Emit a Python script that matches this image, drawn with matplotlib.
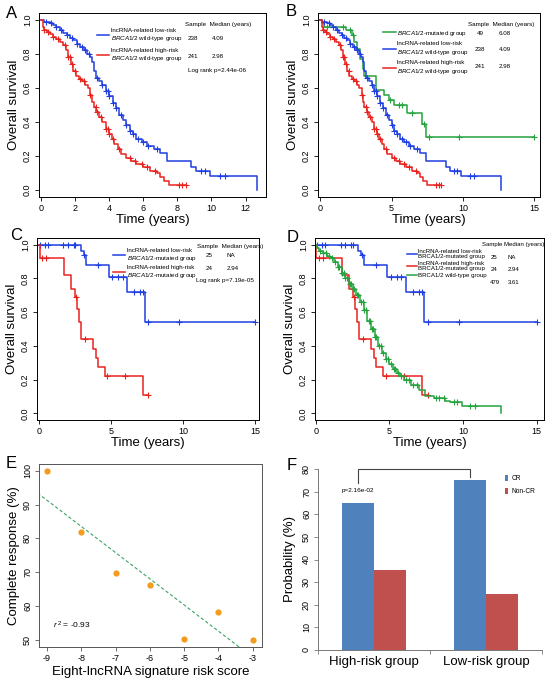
import numpy as np
import matplotlib
matplotlib.use('Agg')
import matplotlib.pyplot as plt

plt.rcParams['font.family'] = ['Liberation Sans', 'DejaVu Sans']
plt.rcParams['mathtext.fontset'] = 'custom'
plt.rcParams['mathtext.rm'] = 'Liberation Sans'
plt.rcParams['mathtext.it'] = 'Liberation Sans:italic'
plt.rcParams['axes.unicode_minus'] = False

BLUE = '#1f3fe0'
RED = '#e8231e'
GREEN = '#25a33f'

# ---- Kaplan-Meier curves (time in years, survival) ----
# lncRNA-related low-risk, BRCA1/2 wild-type (n=238)
low_wt_t = [0, 0.15, 0.3, 0.5, 0.7, 0.9, 1.1, 1.3, 1.5, 1.7, 1.9, 2.1, 2.3, 2.5, 2.7,
            2.85, 3.0, 3.1, 3.2, 3.4, 3.6, 3.8, 4.0, 4.2, 4.4, 4.6, 4.8, 5.0, 5.2, 5.4,
            5.6, 5.9, 6.2, 6.6, 7.0, 7.4, 8.8, 9.1, 9.9, 12.65]
low_wt_s = [1.0, 0.99, 0.985, 0.98, 0.97, 0.955, 0.94, 0.925, 0.91, 0.895, 0.88, 0.86,
            0.84, 0.82, 0.80, 0.78, 0.75, 0.70, 0.66, 0.64, 0.62, 0.58, 0.55, 0.51, 0.48,
            0.44, 0.41, 0.38, 0.35, 0.33, 0.30, 0.28, 0.26, 0.24, 0.22, 0.17, 0.135,
            0.11, 0.085, 0.0]
low_wt_c = [0.3, 0.6, 0.9, 1.2, 1.5, 1.8, 2.1, 2.4, 2.6, 2.8, 3.3, 3.6, 3.8, 3.9, 4.0,
            4.2, 4.4, 4.7, 5.0, 5.2, 5.4, 5.7, 6.0, 6.3, 6.8, 9.4, 9.6, 10.5, 10.8]

# lncRNA-related high-risk, BRCA1/2 wild-type (n=241)
high_wt_t = [0, 0.1, 0.2, 0.35, 0.5, 0.7, 0.9, 1.1, 1.3, 1.45, 1.6, 1.75, 1.9, 2.05,
             2.2, 2.4, 2.6, 2.75, 2.9, 3.0, 3.1, 3.25, 3.4, 3.6, 3.8, 4.0, 4.15, 4.3,
             4.5, 4.7, 5.0, 5.3, 5.6, 6.0, 6.4, 6.8, 7.0, 7.2, 7.5]
high_wt_s = [1.0, 0.96, 0.94, 0.93, 0.915, 0.9, 0.89, 0.87, 0.85, 0.82, 0.78, 0.74,
             0.70, 0.67, 0.65, 0.64, 0.62, 0.60, 0.56, 0.52, 0.49, 0.46, 0.43, 0.40,
             0.36, 0.33, 0.30, 0.27, 0.24, 0.21, 0.19, 0.17, 0.155, 0.135, 0.115, 0.10,
             0.08, 0.055, 0.03]
high_wt_c = [0.2, 0.4, 0.7, 1.0, 1.4, 1.6, 1.7, 1.8, 2.0, 2.3, 2.5, 2.9, 3.2, 3.3, 3.5,
             3.8, 3.9, 4.0, 4.2, 4.6, 5.2, 5.5, 5.9, 6.2, 6.7, 8.1, 8.3, 8.5]

# BRCA1/2-mutated group (n=49)
mut_t = [0, 0.1, 0.3, 1.8, 2.2, 2.4, 2.6, 2.8, 3.0, 3.1, 3.9, 4.5, 4.8, 5.2, 6.1, 7.1, 7.4]
mut_s = [1.0, 0.98, 0.96, 0.94, 0.91, 0.87, 0.83, 0.77, 0.71, 0.67, 0.59, 0.56, 0.53,
         0.50, 0.455, 0.39, 0.31]
mut_c = [0.5, 1.6, 2.1, 2.3, 4.9, 5.5, 5.7, 6.4, 7.3, 7.6, 9.7, 15.0]

# lncRNA-related low-risk, BRCA1/2-mutated (n=25)
low_mut_t = [0, 2.9, 3.1, 3.25, 4.85, 6.1, 7.35]
low_mut_s = [1.0, 0.96, 0.94, 0.88, 0.81, 0.72, 0.54]
low_mut_c = [0.1, 0.4, 0.6, 1.7, 2.0, 2.4, 2.5, 3.15, 4.1, 5.1, 5.5, 5.8, 6.6, 7.0,
             7.2, 7.6, 9.7, 15.0]

# lncRNA-related high-risk, BRCA1/2-mutated (n=24)
high_mut_t = [0, 0.05, 1.75, 2.25, 2.5, 2.65, 2.8, 2.95, 3.75, 3.95, 4.1, 4.55, 7.2]
high_mut_s = [1.0, 0.92, 0.82, 0.74, 0.69, 0.62, 0.54, 0.44, 0.38, 0.33, 0.275, 0.22, 0.11]
high_mut_c = [0.2, 0.5, 2.6, 3.2, 4.75, 6.0, 7.6]

# BRCA1/2 wild-type group (n=479)
wt_t = [0, 0.1, 0.25, 0.5, 0.75, 1.0, 1.25, 1.5, 1.75, 2.0, 2.25, 2.5, 2.75, 3.0, 3.25,
        3.5, 3.75, 4.0, 4.25, 4.5, 4.75, 5.0, 5.25, 5.5, 5.75, 6.0, 6.5, 7.0, 7.4, 8.0,
        8.8, 9.1, 9.9, 12.6]
wt_s = [1.0, 0.98, 0.965, 0.95, 0.935, 0.92, 0.895, 0.87, 0.835, 0.80, 0.77, 0.74,
        0.70, 0.66, 0.61, 0.55, 0.50, 0.45, 0.40, 0.36, 0.32, 0.29, 0.265, 0.24, 0.22,
        0.20, 0.17, 0.14, 0.10, 0.09, 0.075, 0.065, 0.045, 0.0]
wt_c = [0.3, 0.5, 0.7, 0.9, 1.1, 1.3, 1.5, 1.6, 1.8, 1.9, 2.0, 2.1, 2.3, 2.4, 2.5, 2.6,
        2.8, 2.9, 3.1, 3.2, 3.3, 3.4, 3.6, 3.7, 3.8, 3.9, 4.0, 4.1, 4.3, 4.4, 4.6, 4.8,
        4.9, 5.1, 5.3, 5.4, 5.6, 5.8, 6.1, 6.3, 6.6, 6.9, 8.2, 8.4, 8.7, 9.4, 9.6, 10.5,
        10.8]

# ---- panel E ----
risk_score = [-9, -8, -7, -6, -5, -4, -3]
complete_resp = [100, 82, 69.7, 66.2, 50.3, 58.3, 50]

# ---- panel F ----
groups = ['High-risk group', 'Low-risk group']
cr_pct = [64.8, 75.2]
noncr_pct = [35.2, 24.8]

W, H = 550, 680
fig = plt.figure(figsize=(5.5, 6.8), dpi=100)


def px_axes(l, t, r, b):
    return fig.add_axes([l / W, 1 - b / H, (r - l) / W, (b - t) / H])


def km(ax, times, surv, cens, color):
    times = np.asarray(times, float)
    surv = np.asarray(surv, float)
    tend = max(times[-1], max(cens))
    line, = ax.step(np.append(times, tend), np.append(surv, surv[-1]), where='post',
                    color=color, lw=1.1)
    idx = np.searchsorted(times, cens, side='right') - 1
    ax.plot(cens, surv[idx], ls='none', marker='+', ms=4, mew=0.8, color=color)
    return line


def surv_style(ax, xlim, xticks):
    ax.set_xlim(*xlim)
    ax.set_ylim(-0.04, 1.04)
    ax.set_xticks(xticks)
    yt = [0, 0.2, 0.4, 0.6, 0.8, 1.0]
    ax.set_yticks(yt)
    ax.set_yticklabels(['%.1f' % v for v in yt], rotation=90, va='center')
    ax.tick_params(labelsize=6.5, length=3, width=0.6, pad=2)
    ax.set_xlabel('Time (years)', fontsize=9.5, labelpad=1)
    ax.set_ylabel('Overall survival', fontsize=9.5, labelpad=2)
    for s in ax.spines.values():
        s.set_linewidth(0.7)


def txt(ax, x, y, s, ha='center', fs=4.5):
    ax.text(x, y, s, transform=ax.transAxes, ha=ha, va='center', fontsize=fs)


lbl_low_wt = 'lncRNA-related low-risk\n$\\mathit{BRCA1/2}$ wild-type group'
lbl_high_wt = 'lncRNA-related high-risk\n$\\mathit{BRCA1/2}$ wild-type group'
lbl_mut = '$\\mathit{BRCA1/2}$-mutated group'
lbl_low_mut = 'lncRNA-related low-risk\n$\\mathit{BRCA1/2}$-mutated group'
lbl_high_mut = 'lncRNA-related high-risk\n$\\mathit{BRCA1/2}$-mutated group'
leg_kw = dict(loc='upper left', frameon=False, handlelength=2.0, handletextpad=0.3,
              borderaxespad=0, borderpad=0)

# ---- A ----
axA = px_axes(39, 13, 266, 197)
h1 = km(axA, low_wt_t, low_wt_s, low_wt_c, BLUE)
h2 = km(axA, high_wt_t, high_wt_s, high_wt_c, RED)
surv_style(axA, (-0.12, 13.2), range(0, 13, 2))
axA.legend([h1, h2], [lbl_low_wt, lbl_high_wt], bbox_to_anchor=(0.255, 0.92),
           fontsize=4.5, labelspacing=0.8, **leg_kw)
txt(axA, 0.643, 0.935, 'Sample  Median (years)', ha='left')
txt(axA, 0.678, 0.864, '238')
txt(axA, 0.789, 0.864, '4.09')
txt(axA, 0.678, 0.761, '241')
txt(axA, 0.789, 0.761, '2.98')
txt(axA, 0.656, 0.685, 'Log rank p=2.44e-06', ha='left')

# ---- B ----
axB = px_axes(318, 13, 540, 197)
h0 = km(axB, mut_t, mut_s, mut_c, GREEN)
h1 = km(axB, low_wt_t, low_wt_s, low_wt_c, BLUE)
h2 = km(axB, high_wt_t, high_wt_s, high_wt_c, RED)
surv_style(axB, (-0.15, 15.4), [0, 5, 10, 15])
axB.legend([h0, h1, h2], [lbl_mut, lbl_low_wt, lbl_high_wt], bbox_to_anchor=(0.293, 0.915),
           fontsize=4.5, labelspacing=0.6, **leg_kw)
txt(axB, 0.675, 0.94, 'Sample  Median (years)', ha='left')
for yy, n, m in [(0.886, '49', '6.08'), (0.804, '238', '4.09'), (0.707, '241', '2.98')]:
    txt(axB, 0.73, yy, n)
    txt(axB, 0.84, yy, m)

# ---- C ----
axC = px_axes(37, 238, 259, 420)
h1 = km(axC, low_mut_t, low_mut_s, low_mut_c, BLUE)
h2 = km(axC, high_mut_t, high_mut_s, high_mut_c, RED)
surv_style(axC, (-0.14, 15.28), [0, 5, 10, 15])
axC.legend([h1, h2], [lbl_low_mut, lbl_high_mut], bbox_to_anchor=(0.342, 0.945),
           fontsize=4.5, labelspacing=0.3, **leg_kw)
txt(axC, 0.72, 0.956, 'Sample  Median (years)', ha='left')
txt(axC, 0.775, 0.905, '25')
txt(axC, 0.875, 0.905, 'NA')
txt(axC, 0.775, 0.83, '24')
txt(axC, 0.88, 0.83, '2.94')
txt(axC, 0.716, 0.764, 'Log rank p=7.19e-05', ha='left')

# ---- D ----
axD = px_axes(315, 238, 544, 420)
h1 = km(axD, low_mut_t, low_mut_s, low_mut_c, BLUE)
h2 = km(axD, high_mut_t, high_mut_s, high_mut_c, RED)
h3 = km(axD, wt_t, wt_s, wt_c, GREEN)
surv_style(axD, (-0.05, 15.5), [0, 5, 10, 15])
axD.legend([h1, h2, h3],
           ['lncRNA-related low-risk\nBRCA1/2-mutated group',
            'lncRNA-related high-risk\nBRCA1/2-mutated group',
            'BRCA1/2 wild-type group'],
           bbox_to_anchor=(0.402, 0.942), fontsize=4.4, labelspacing=0.2,
           **dict(leg_kw, handlelength=1.6, handletextpad=0.15))
txt(axD, 0.729, 0.967, 'Sample Median (years)', ha='left', fs=4.3)
for yy, n, m in [(0.893, '25', 'NA'), (0.826, '24', '2.94'), (0.756, '479', '3.61')]:
    txt(axD, 0.765, yy, n, ha='left', fs=4.3)
    txt(axD, 0.84, yy, m, ha='left', fs=4.3)

# ---- E ----
axE = px_axes(39, 464, 262, 647)
axE.plot(risk_score, complete_resp, 'o', color='#f39c1f', ms=4.5, mec='none', zorder=3)
k, b0 = np.polyfit(risk_score, complete_resp, 1)
xx = np.array([-9.4, -2.8])
axE.plot(xx, k * xx + b0, ls=(0, (3, 2)), color='#3aa564', lw=0.8)
axE.set_xlim(-9.23, -2.73)
axE.set_ylim(47.9, 102)
axE.set_xticks(risk_score)
axE.set_yticks([50, 60, 70, 80, 90, 100])
axE.set_yticklabels(['50', '60', '70', '80', '90', '100'], rotation=90, va='center')
axE.tick_params(labelsize=6.5, length=3, width=0.6, pad=2, color='#555555')
for s in axE.spines.values():
    s.set_linewidth(0.7)
    s.set_color('#555555')
axE.set_xlabel('Eight-lncRNA signature risk score', fontsize=9.5, labelpad=2)
axE.set_ylabel('Complete response (%)', fontsize=9.5, labelpad=2)
axE.text(-8.82, 53.5, '$r^{\\,2}$ = -0.93', fontsize=6)

# ---- F ----
axF = px_axes(318, 469, 542, 650)
x = np.arange(len(groups))
w = 0.29
axF.bar(x - w / 2, cr_pct, w, color='#4f81bd', label='CR')
axF.bar(x + w / 2, noncr_pct, w, color='#c0504d', label='Non-CR')
axF.set_xlim(-0.5, 1.5)
axF.set_ylim(0, 80)
axF.set_yticks(range(0, 81, 10))
axF.set_yticklabels([str(v) for v in range(0, 81, 10)], rotation=90, va='center')
axF.set_xticks(x)
axF.set_xticklabels(groups, fontsize=9.5)
axF.set_xticks([-0.5, 0.5, 1.5], minor=True)
axF.tick_params(axis='x', which='major', length=0, pad=4)
axF.tick_params(axis='x', which='minor', length=3, width=0.6, color='#777777')
axF.tick_params(axis='y', labelsize=6.5, length=3, width=0.6, pad=2, color='#777777')
axF.spines['top'].set_visible(False)
axF.spines['right'].set_visible(False)
for s in ('left', 'bottom'):
    axF.spines[s].set_color('#777777')
    axF.spines[s].set_linewidth(0.7)
axF.set_ylabel('Probability (%)', fontsize=9.5, labelpad=4)
top = 80
axF.plot([x[0] - w / 2, x[0] - w / 2, x[1] - w / 2, x[1] - w / 2],
         [cr_pct[0] + 9, top, top, cr_pct[1] + 1.3], color='#444444', lw=0.8,
         clip_on=False)
axF.text(x[0] - w / 2, cr_pct[0] + 5.5, 'p=2.16e-02', ha='center', va='center', fontsize=4.6)
axF.legend(loc='upper left', bbox_to_anchor=(0.835, 0.965), frameon=False, fontsize=4.8,
           handlelength=0.5, handleheight=0.8, handletextpad=0.5, labelspacing=0.9,
           borderaxespad=0, borderpad=0)

# panel letters
for lab, px, py in [('A', 12, 13), ('B', 291, 12), ('C', 16, 236), ('D', 293, 237),
                    ('E', 11, 464), ('F', 292, 466)]:
    fig.text(px / W, 1 - py / H, lab, fontsize=12, ha='center', va='center')

fig.savefig('out.png', dpi=100)
